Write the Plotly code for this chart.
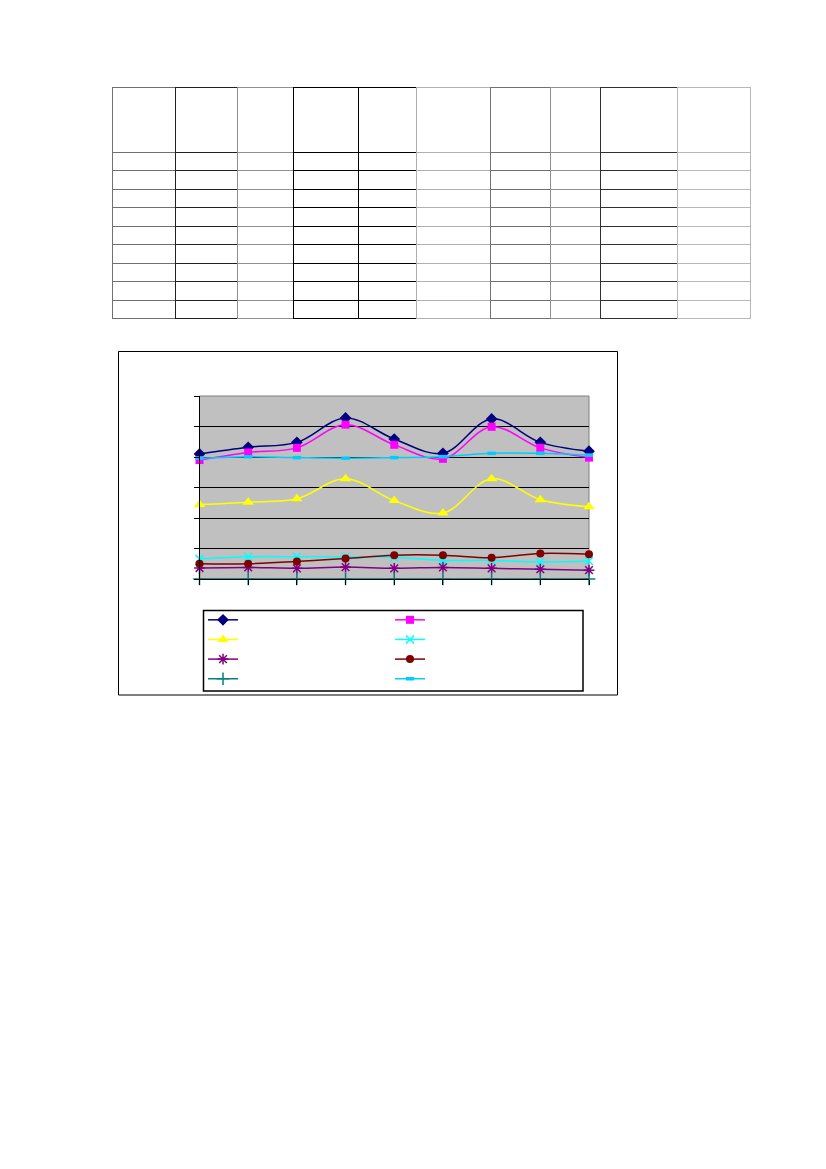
import plotly.graph_objects as go

W, H = 826, 1169

# ---- data ----
categories = [1, 2, 3, 4, 5, 6, 7, 8, 9]
series_navy = [41.0, 43.2, 44.8, 52.8, 45.9, 41.2, 52.5, 44.8, 41.9]
series_magenta = [39.0, 41.5, 43.0, 50.6, 44.0, 39.4, 49.9, 43.0, 39.8]
series_yellow = [24.4, 25.2, 26.3, 32.9, 25.7, 21.6, 32.9, 26.0, 23.7]
series_cyan = [6.6, 7.3, 7.3, 7.3, 7.1, 6.1, 6.1, 5.6, 5.9]
series_purple = [3.6, 3.8, 3.5, 3.9, 3.5, 3.8, 3.5, 3.2, 2.9]
series_darkred = [5.0, 5.0, 5.7, 6.7, 7.8, 7.8, 7.0, 8.4, 8.1]
series_teal = [0, 0, 0, 0, 0, 0, 0, 0, 0]
series_skyblue = [39.6, 40.1, 39.8, 39.6, 39.8, 40.1, 41.2, 41.2, 40.6]

table_headers = ["", "", "", "", "", "", "", "", "", ""]
table_rows = 9
table_colwidths = [63, 62, 56, 65, 58, 74, 60, 50, 77, 73]
table_linecolors = ["#707070", "#202020", "#909090", "#000000", "#000000",
                    "#b0b0b0", "#707070", "#909090", "#303030", "#b8b8b8"]


def px(v):
    return v / W


def py(v):
    return 1 - v / H


fig = go.Figure()

# ---- table ----
fig.add_trace(go.Table(
    domain=dict(x=[px(112), px(750.5)], y=[py(321), py(87)]),
    columnwidth=table_colwidths,
    header=dict(values=table_headers, height=65,
                fill=dict(color="white"),
                line=dict(color=table_linecolors, width=1)),
    cells=dict(values=[[""] * table_rows for _ in table_headers], height=18.5,
               fill=dict(color="white"),
               line=dict(color=table_linecolors, width=1)),
))

# ---- chart ----
specs = [
    (series_navy, "#000080", "diamond", 9, "legend", 0),
    (series_magenta, "#FF00FF", "square", 8, "legend2", 0),
    (series_yellow, "#FFFF00", "triangle-up", 10, "legend", 0),
    (series_cyan, "#00FFFF", "x-thin-open", 8, "legend2", 1.5),
    (series_purple, "#800080", "asterisk-open", 9, "legend", 1.5),
    (series_darkred, "#800000", "circle", 8, "legend2", 0),
    (series_teal, "#008080", "cross-thin-open", 9, "legend", 1.5),
    (series_skyblue, "#00CCFF", "line-ew-open", 6, "legend2", 3.5),
]

for vals, col, sym, size, lg, mlw in specs:
    fig.add_trace(go.Scatter(
        x=categories, y=vals, mode="lines+markers", name="\u00a0",
        line=dict(color=col, width=1.5, shape="spline", smoothing=1),
        marker=dict(symbol=sym, size=size, color=col,
                    line=dict(color=col, width=mlw)),
        cliponaxis=False, legend=lg,
    ))

fig.update_layout(
    width=W, height=H,
    margin=dict(l=0, r=0, t=0, b=0),
    paper_bgcolor="white",
    plot_bgcolor="#C0C0C0",
    showlegend=True,
    xaxis=dict(domain=[px(199.5), px(589)], range=[1, 9], showgrid=False,
               zeroline=False, showticklabels=False, ticks="outside",
               ticklen=5, tickcolor="#000000", tickvals=categories,
               showline=True, linecolor="#000000", linewidth=1),
    yaxis=dict(domain=[py(579), py(396)], range=[0, 60], dtick=10,
               showgrid=True, gridcolor="#000000", gridwidth=1,
               zeroline=False, showticklabels=False, ticks="outside",
               ticklen=5, tickcolor="#000000",
               showline=True, linecolor="#000000", linewidth=1),
    legend=dict(x=px(203), y=py(605), xanchor="left", yanchor="top",
                bgcolor="rgba(0,0,0,0)", borderwidth=0,
                font=dict(size=12.8, family="Arial"), tracegroupgap=0),
    legend2=dict(x=px(390), y=py(605), xanchor="left", yanchor="top",
                 bgcolor="rgba(0,0,0,0)", borderwidth=0,
                 font=dict(size=12.8, family="Arial"), tracegroupgap=0),
    shapes=[
        # plot area frame (top/right gray)
        dict(type="rect", xref="x domain", yref="y domain", x0=0, x1=1, y0=0, y1=1,
             line=dict(color="#808080", width=1), layer="below"),
        # chart outer frame
        dict(type="rect", xref="paper", yref="paper", x0=px(118.5), x1=px(617.5),
             y0=py(695), y1=py(351.5), line=dict(color="#000000", width=1)),
        # legend frame
        dict(type="rect", xref="paper", yref="paper", x0=px(203.5), x1=px(583),
             y0=py(691), y1=py(610.5), line=dict(color="#000000", width=1.5)),
    ],
)

fig.write_html("out.html", config={"displayModeBar": False},
               post_script="document.body.style.margin='0';")
